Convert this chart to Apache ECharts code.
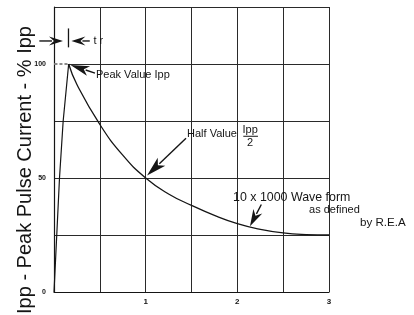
<!DOCTYPE html>
<html><head><meta charset="utf-8">
<script src="https://cdn.jsdelivr.net/npm/echarts@6/dist/echarts.min.js"></script>
<style>html,body{margin:0;padding:0;background:#fff}#c{width:414px;height:315px}</style>
</head><body><div id="c"></div>
<script>
// ---- data ----
const riseT = [0, 0.06, 0.1, 0.16];
const riseV = [0, 50, 75, 100];
const decayT = [0.16, 0.25, 0.5, 0.75, 1, 1.25, 1.5, 1.75, 2, 2.25, 2.5, 2.75, 3];
const decayV = [100, 91, 73.5, 60, 50, 43, 38, 33.6, 30, 27.5, 25.9, 25.2, 25];
const xTickLabels = ['1', '2', '3'];
const yTickLabels = ['0', '50', '100'];
const yTitle = 'Ipp - Peak Pulse Current - % Ipp';

const FONT = '"Liberation Sans", Arial, Helvetica, sans-serif';
const INK = '#151515';

const chart = echarts.init(document.getElementById('c'), null, {renderer: 'canvas'});
const axisCommon = {
  type: 'value',
  axisLine: {show: true, lineStyle: {color: INK, width: 1.2}},
  axisTick: {show: false},
  splitLine: {show: true, lineStyle: {color: '#2a2a2a', width: 1}},
};
chart.setOption({
  backgroundColor: '#fff',
  animation: false,
  grid: {left: 54, right: 85, top: 7, bottom: 23},
  xAxis: Object.assign({}, axisCommon, {
    min: 0, max: 3, interval: 0.5,
    axisLabel: {margin: 6, fontSize: 8, fontWeight: 'bold', color: INK, fontFamily: FONT,
      formatter: v => xTickLabels.includes(String(v)) ? String(v) : ''}
  }),
  yAxis: Object.assign({}, axisCommon, {
    min: 0, max: 125, interval: 25,
    axisLabel: {margin: 8, fontSize: 7, fontWeight: 'bold', color: INK, fontFamily: FONT,
      formatter: v => yTickLabels.includes(String(v)) ? String(v) : ''}
  }),
  series: [
    {type: 'line', data: riseT.map((t, i) => [t, riseV[i]]), symbol: 'none',
      lineStyle: {color: INK, width: 1.2}, z: 3},
    {type: 'line', data: decayT.map((t, i) => [t, decayV[i]]), symbol: 'none',
      smooth: 0.5,
      lineStyle: {color: INK, width: 1.3}, z: 3}
  ]
});

// ---- annotations (anchored in data coordinates) ----
const P = (x, v) => chart.convertToPixel({gridIndex: 0}, [x, v]);
const g = [];
function text(str, at, size, align) {
  const p = P(at[0], at[1]);
  g.push({type: 'text', x: p[0], y: p[1], z: 10, style: {text: str, fill: INK,
    font: size + 'px ' + FONT, align: align || 'left', verticalAlign: 'middle'}});
}
function line(a, b, w, color, dash) {
  const p1 = P(a[0], a[1]), p2 = P(b[0], b[1]);
  g.push({type: 'line', z: 5, shape: {x1: p1[0], y1: p1[1], x2: p2[0], y2: p2[1]},
    style: {stroke: color || INK, lineWidth: w || 1.2, lineDash: dash || null}});
}
function arrow(tail, tip, headLen, half) {
  const a = P(tail[0], tail[1]), b = P(tip[0], tip[1]);
  const dx = b[0] - a[0], dy = b[1] - a[1], L = Math.hypot(dx, dy);
  const ux = dx / L, uy = dy / L, nx = -uy, ny = ux;
  const bx = b[0] - ux * headLen, by = b[1] - uy * headLen;
  g.push({type: 'line', z: 10, shape: {x1: a[0], y1: a[1], x2: bx + ux * 2, y2: by + uy * 2},
    style: {stroke: INK, lineWidth: 1.4}});
  g.push({type: 'polygon', z: 10, shape: {points: [
    [b[0], b[1]],
    [bx + nx * half - ux * 1, by + ny * half - uy * 1],
    [bx + ux * 4, by + uy * 4],
    [bx - nx * half - ux * 1, by - ny * half - uy * 1]
  ]}, style: {fill: INK}});
}

// dashed stretch of the 100 % line left of the peak
line([0.005, 100], [0.15, 100], 2, '#fff');
line([0.005, 100], [0.15, 100], 1, INK, [3, 2]);

// Peak value
arrow([0.447, 96], [0.18, 99.6], 18, 5);
text('Peak Value Ipp', [0.458, 95.4], 11);
// Half value
arrow([1.44, 67.4], [1.015, 51.1], 19, 5.5);
text('Half Value', [1.451, 69.3], 11);
text('Ipp', [2.14, 71.0], 11, 'center');
line([2.065, 68.3], [2.225, 68.3], 1);
text('2', [2.14, 65.4], 11, 'center');
// Wave form note
arrow([2.262, 38.4], [2.138, 28.8], 16, 5);
text('10 x 1000 Wave form', [1.953, 41.4], 12.4);
text('as defined', [2.782, 36.1], 11);
text('by R.E.A', [3.338, 30.4], 11.6);
// rise time marker
arrow([-0.16, 110.1], [0.098, 110.1], 13, 4.5);
arrow([0.39, 110.1], [0.19, 110.1], 13, 4.5);
line([0.158, 115.6], [0.158, 107.3], 1.3);
text('t r', [0.43, 110.1], 11);

// y title
g.push({type: 'text', x: 25, y: 170, rotation: Math.PI / 2,
  style: {text: yTitle, fill: INK, font: '20px ' + FONT, align: 'center', verticalAlign: 'middle'}});

chart.setOption({graphic: {elements: g}});
</script></body></html>
